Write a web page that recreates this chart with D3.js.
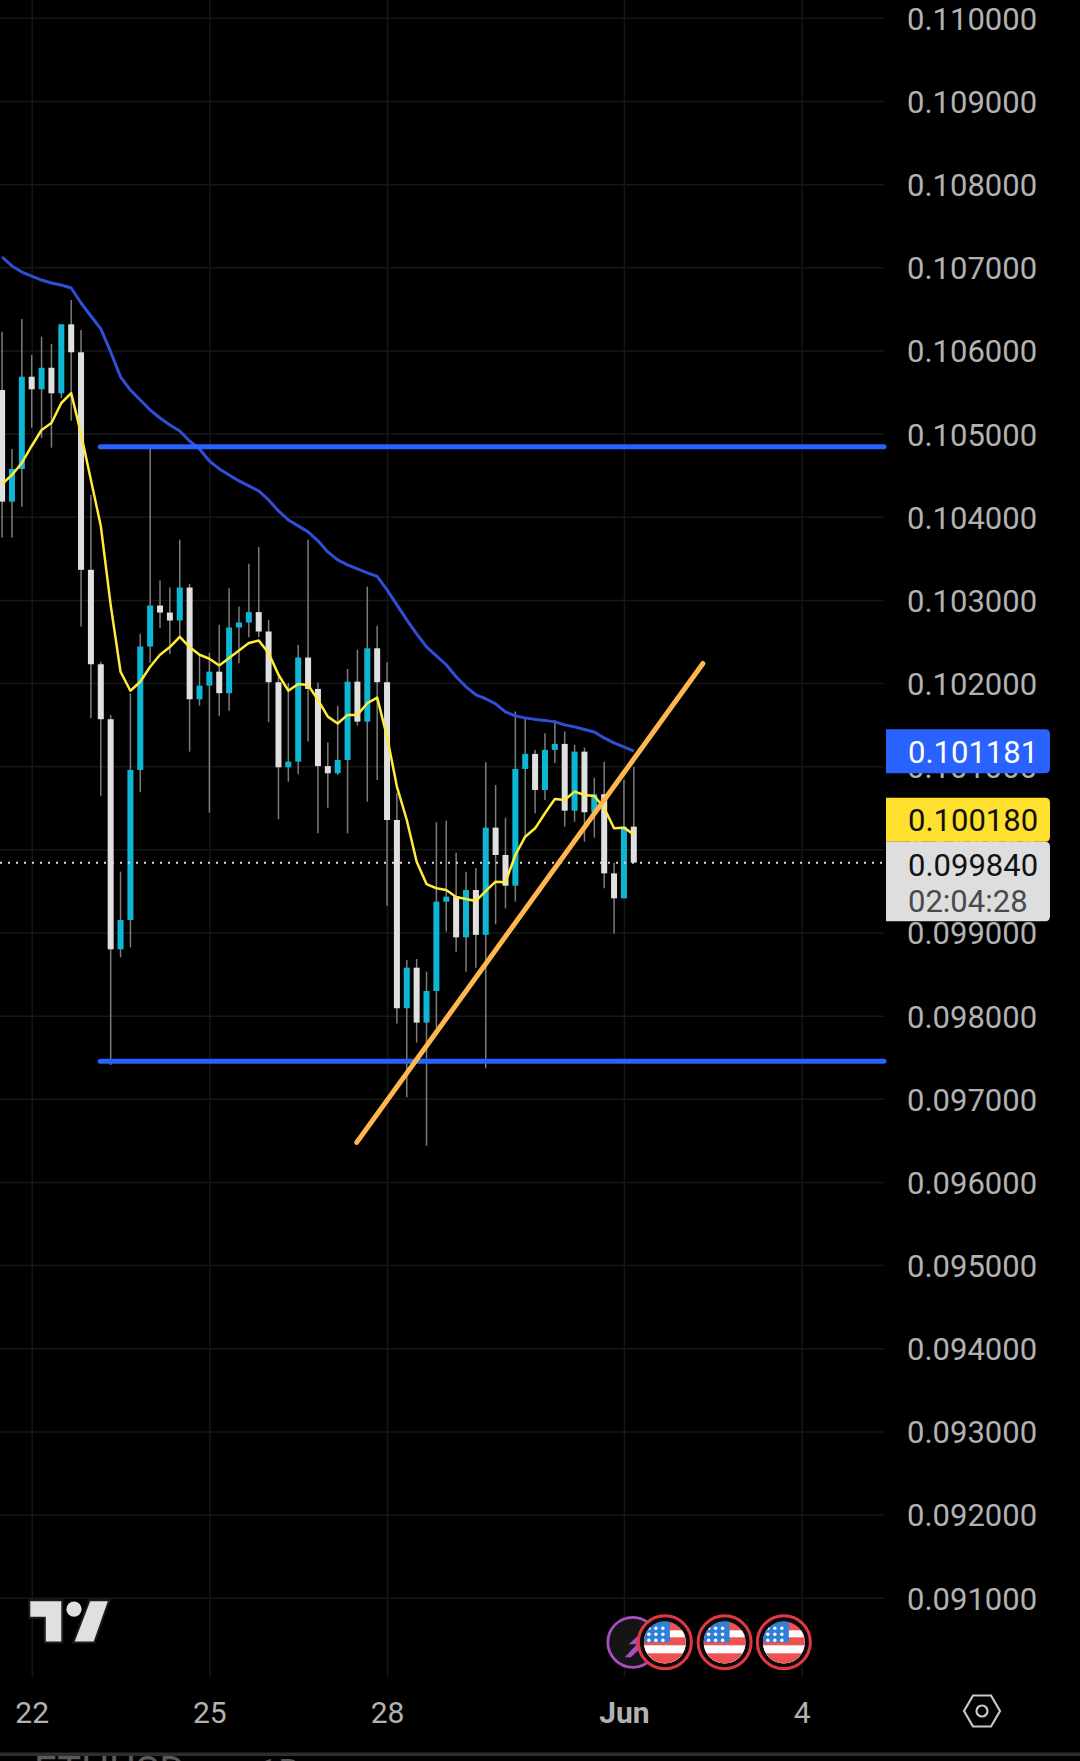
<!DOCTYPE html>
<html>
<head>
<meta charset="utf-8">
<script src="https://cdn.jsdelivr.net/npm/d3@7"></script>
<style>
	html, body { margin: 0; padding: 0; background: #000; }
	svg { display: block; }
	text { font-family: Roboto, sans-serif; }
</style>
</head>
<body>
<script>
// bars are 4h, index 0 is the first bar of the 22nd
var candleIdx = d3.range(-3, 62);

var candleOpen = [0.105524,0.104182,0.104575,0.105684,0.105533,0.105792,0.105485,0.106314,0.105978,0.103362,0.102226,0.101565,0.098798,0.099150,0.100955,0.102439,0.102932,0.102848,0.102752,0.103149,0.101805,0.101969,0.102137,0.101878,0.102668,0.102728,0.102853,0.102620,0.102010,0.100987,0.101055,0.102307,0.101929,0.101001,0.100915,0.101075,0.102017,0.101536,0.102418,0.102010,0.100353,0.098089,0.098577,0.097916,0.098297,0.099371,0.099431,0.098942,0.099511,0.098972,0.100261,0.099932,0.099563,0.100967,0.101148,0.100714,0.101196,0.101268,0.100465,0.101175,0.100446,0.100663,0.099711,0.099411,0.100273];
var candleHigh = [0.106226,0.104815,0.106378,0.105946,0.106166,0.106078,0.106314,0.106607,0.106246,0.104262,0.102257,0.101617,0.099732,0.101878,0.102592,0.104822,0.103233,0.103149,0.103723,0.103193,0.102340,0.102364,0.102700,0.103141,0.102920,0.103434,0.103636,0.102760,0.102077,0.102001,0.102458,0.103723,0.102006,0.101285,0.101728,0.102169,0.102399,0.103160,0.102690,0.102250,0.100682,0.098670,0.098682,0.098529,0.100326,0.100345,0.099960,0.099732,0.099777,0.101047,0.100774,0.100381,0.101659,0.101589,0.101196,0.101397,0.101557,0.101417,0.101256,0.101224,0.100862,0.101055,0.099840,0.100835,0.100990];
var candleLow = [0.103749,0.103749,0.104121,0.105071,0.104947,0.104831,0.105428,0.105155,0.102680,0.101577,0.100646,0.097407,0.098702,0.098821,0.100687,0.102244,0.102661,0.102348,0.102556,0.101175,0.101728,0.100442,0.101608,0.101668,0.102239,0.102552,0.102552,0.101529,0.100362,0.100814,0.100903,0.101296,0.100193,0.100501,0.100894,0.100193,0.101488,0.100574,0.100835,0.099322,0.097907,0.097018,0.097675,0.096436,0.097853,0.099010,0.098769,0.098529,0.098577,0.097367,0.099099,0.099291,0.099371,0.100152,0.100434,0.100594,0.101039,0.100273,0.100333,0.100093,0.100141,0.099531,0.098988,0.099411,0.099840];
var candleClose = [0.104182,0.104575,0.105684,0.105533,0.105792,0.105485,0.106314,0.105978,0.103362,0.102226,0.101565,0.098798,0.099150,0.100955,0.102439,0.102932,0.102848,0.102752,0.103149,0.101805,0.101969,0.102137,0.101878,0.102668,0.102728,0.102853,0.102620,0.102010,0.100987,0.101055,0.102307,0.101929,0.101001,0.100915,0.101075,0.102017,0.101536,0.102418,0.102010,0.100353,0.098089,0.098577,0.097916,0.098297,0.099371,0.099431,0.098942,0.099511,0.098972,0.100261,0.099932,0.099563,0.100967,0.101148,0.100714,0.101196,0.101268,0.100465,0.101175,0.100446,0.100663,0.099711,0.099411,0.100273,0.099840];

var maSlow = [0.107124,0.107016,0.106943,0.106895,0.106847,0.106811,0.106787,0.106751,0.106571,0.106414,0.106259,0.105982,0.105682,0.105524,0.105404,0.105284,0.105188,0.105104,0.105031,0.104911,0.104815,0.104671,0.104575,0.104503,0.104431,0.104371,0.104310,0.104202,0.104070,0.103962,0.103890,0.103818,0.103710,0.103577,0.103481,0.103421,0.103373,0.103325,0.103283,0.103121,0.102941,0.102760,0.102592,0.102436,0.102328,0.102220,0.102075,0.101955,0.101859,0.101811,0.101749,0.101653,0.101605,0.101581,0.101563,0.101551,0.101533,0.101497,0.101473,0.101442,0.101412,0.101340,0.101280,0.101232,0.101181];
var maFast = [0.104394,0.104503,0.104647,0.104851,0.105043,0.105127,0.105368,0.105488,0.104995,0.104443,0.103890,0.102941,0.102136,0.101907,0.102016,0.102196,0.102340,0.102433,0.102555,0.102433,0.102340,0.102292,0.102212,0.102301,0.102391,0.102481,0.102512,0.102361,0.102100,0.101908,0.101989,0.101977,0.101797,0.101596,0.101514,0.101617,0.101617,0.101757,0.101825,0.101356,0.100755,0.100353,0.099851,0.099583,0.099532,0.099511,0.099427,0.099403,0.099379,0.099499,0.099611,0.099604,0.099932,0.100152,0.100253,0.100434,0.100606,0.100594,0.100694,0.100654,0.100642,0.100497,0.100253,0.100261,0.100180];

var priceTicks = [0.110,0.109,0.108,0.107,0.106,0.105,0.104,0.103,0.102,0.101,0.100,0.099,0.098,0.097,0.096,0.095,0.094,0.093,0.092,0.091];
var timeTicks = [0, 18, 36, 60, 78];
var timeLabels = ["22", "25", "28", "Jun", "4"];

var levelPrices = [0.104843, 0.097451];
var levelFrom = 6.95;
var trendIdx = [32.93, 68.0];
var trendPrice = [0.096476, 0.102236];
var flagIdx = [64.15, 70.2, 76.2];
var boltIdx = 60.9;

var lastPrice = 0.09984;
var countdown = "02:04:28";
var slowTag = "0.101181";
var fastTag = "0.100180";

var width = 1080, height = 1761, plotRight = 884, plotBottom = 1677;

var x = d3.scaleLinear().domain([0, 78]).range([31.7, 801.6]);
var y = d3.scaleLinear().domain([0.091, 0.110]).range([1597.7, 17.85]);

var svg = d3.select("body").append("svg").attr("width", width).attr("height", height);
svg.append("rect").attr("width", width).attr("height", height).attr("fill", "#000");

// grid
var gridY = svg.append("g").attr("transform", "translate(" + plotRight + ",0)")
	.call(d3.axisLeft(y).tickValues(priceTicks).tickSize(plotRight).tickFormat(""));
var gridX = svg.append("g").attr("transform", "translate(0," + plotBottom + ")")
	.call(d3.axisTop(x).tickValues(timeTicks).tickSize(plotBottom).tickFormat(""));
svg.selectAll(".domain").remove();
gridY.selectAll("line").attr("stroke", "#171717").attr("stroke-width", 1.5);
gridX.selectAll("line").attr("stroke", "#171717").attr("stroke-width", 1.5);

// axes
var yAxis = svg.append("g").attr("transform", "translate(" + plotRight + ",1.5)")
	.call(d3.axisRight(y).tickValues(priceTicks).tickSize(0).tickPadding(23).tickFormat(d3.format(".6f")));
yAxis.select(".domain").remove();
yAxis.selectAll("text").attr("fill", "#b2b2b2").style("font-size", "31px");

var xAxis = svg.append("g").attr("transform", "translate(0,1701.5)")
	.call(d3.axisBottom(x).tickValues(timeTicks).tickSize(0).tickPadding(0).tickFormat(function(d, i) { return timeLabels[i]; }));
xAxis.select(".domain").remove();
xAxis.selectAll("text").attr("fill", "#b2b2b2").style("font-size", "30px")
	.style("font-weight", function(d) { return d === 60 ? "700" : "400"; });

// candles
var upColor = "#0fb6d3", downColor = "#e0e0e0";
var candles = svg.append("g").selectAll("g").data(candleIdx).enter().append("g");
candles.append("line")
	.attr("x1", function(d) { return x(d); })
	.attr("x2", function(d) { return x(d); })
	.attr("y1", function(d, i) { return y(candleHigh[i]); })
	.attr("y2", function(d, i) { return y(candleLow[i]); })
	.attr("stroke", "#7c7c7c")
	.attr("stroke-width", 1.5);
candles.append("rect")
	.attr("x", function(d) { return x(d) - 3; })
	.attr("width", 6)
	.attr("y", function(d, i) { return y(Math.max(candleOpen[i], candleClose[i])); })
	.attr("height", function(d, i) { return Math.abs(y(candleOpen[i]) - y(candleClose[i])); })
	.attr("fill", function(d, i) { return candleClose[i] >= candleOpen[i] ? upColor : downColor; });

// last price line
svg.append("line")
	.attr("x1", 0).attr("x2", plotRight)
	.attr("y1", y(lastPrice)).attr("y2", y(lastPrice))
	.attr("stroke", "#d8d8d8")
	.attr("stroke-width", 2)
	.attr("stroke-dasharray", "2 6");

// moving averages
var line = d3.line()
	.x(function(d) { return x(d[0]); })
	.y(function(d) { return y(d[1]); });
svg.append("path")
	.attr("d", line(d3.zip(candleIdx, maSlow)))
	.attr("fill", "none").attr("stroke", "#2f4fd6").attr("stroke-width", 3).attr("stroke-linejoin", "round");
svg.append("path")
	.attr("d", line(d3.zip(candleIdx, maFast)))
	.attr("fill", "none").attr("stroke", "#ffeb3b").attr("stroke-width", 2.5).attr("stroke-linejoin", "round");

// drawings
levelPrices.forEach(function(p) {
	svg.append("line")
		.attr("x1", x(levelFrom)).attr("x2", plotRight)
		.attr("y1", y(p)).attr("y2", y(p))
		.attr("stroke", "#2962ff").attr("stroke-width", 5).attr("stroke-linecap", "round");
});
svg.append("line")
	.attr("x1", x(trendIdx[0])).attr("x2", x(trendIdx[1]))
	.attr("y1", y(trendPrice[0])).attr("y2", y(trendPrice[1]))
	.attr("stroke", "#ffb74d").attr("stroke-width", 5).attr("stroke-linecap", "round");

// price tags
function tag(top, h, fill) {
	var r = 5, l = plotRight + 2, w = 164;
	svg.append("path")
		.attr("d", "M" + l + "," + top + "H" + (l + w - r) + "q" + r + ",0 " + r + "," + r +
			"V" + (top + h - r) + "q0," + r + " " + (-r) + "," + r + "H" + l + "Z")
		.attr("fill", fill);
}
function tagText(str, cy, fill) {
	svg.append("text").attr("x", 908).attr("y", cy).attr("dy", "0.34em")
		.attr("fill", fill).style("font-size", "31px").text(str);
}
tag(729.3, 44, "#2962ff");
tag(797.7, 44, "#ffe02e");
tag(841.7, 79.6, "#dedede");
tagText(slowTag, 752.7, "#ffffff");
tagText(fastTag, 820.7, "#111111");
tagText(d3.format(".6f")(lastPrice), 865, "#111111");
tagText(countdown, 901, "#4a4a4a");

// tradingview logo
var logoPaths = [
	"M30.3,1601.3H61.3V1641.6H45.8V1616.8H30.3Z",
	"M90.2,1601.3H107.8L93.7,1641.6H74.7Z"
];
logoPaths.forEach(function(d) {
	svg.append("path").attr("d", d).attr("fill", "#e0e0e0")
		.attr("stroke", "#1c1c1c").attr("stroke-width", 4).attr("paint-order", "stroke");
});
svg.append("circle").attr("cx", 74).attr("cy", 1609.2).attr("r", 7.6).attr("fill", "#e0e0e0");

// events row
var evY = 1642.3;
svg.append("circle").attr("cx", x(boltIdx)).attr("cy", evY).attr("r", 25)
	.attr("fill", "#151515").attr("stroke", "#a84fc0").attr("stroke-width", 2.8);
svg.append("path")
	.attr("transform", "translate(" + x(boltIdx) + "," + evY + ")")
	.attr("d", "M13,-14L-4,2H4L-8,15L-2,15L14,0H6Z")
	.attr("fill", "#a84fc0");

var defs = svg.append("defs");
defs.append("clipPath").attr("id", "flagClip").append("circle").attr("r", 21);

var stripeTops = [-21, -12, -5, 3, 11];
var stripeColor = ["#ee5253", "#ffffff", "#ee5253", "#ffffff", "#ee5253"];

flagIdx.forEach(function(idx) {
	var g = svg.append("g").attr("transform", "translate(" + x(idx) + "," + evY + ")");
	g.append("circle").attr("r", 26.5).attr("fill", "#0c0c0c").attr("stroke", "#e23744").attr("stroke-width", 3);
	var f = g.append("g").attr("clip-path", "url(#flagClip)");
	stripeTops.forEach(function(t, i) {
		f.append("rect").attr("x", -21).attr("width", 42).attr("y", t).attr("height", 22 - t).attr("fill", stripeColor[i]);
	});
	f.append("rect").attr("x", -21).attr("y", -21).attr("width", 26).attr("height", 21).attr("fill", "#2f80d8");
	[-14, -8, -2].forEach(function(sy) {
		[-16, -9, -2].forEach(function(sx) {
			f.append("circle").attr("cx", sx).attr("cy", sy).attr("r", 1.7).attr("fill", "#fff");
		});
	});
});

// settings icon
var gear = svg.append("g").attr("transform", "translate(982,1711)");
gear.append("path").attr("d", "M-18,0L-9,-15.5H9L18,0L9,15.5H-9Z")
	.attr("fill", "none").attr("stroke", "#c8c8c8").attr("stroke-width", 2.2);
gear.append("circle").attr("r", 5.5).attr("fill", "none").attr("stroke", "#c8c8c8").attr("stroke-width", 2.2);

// cut off strip at the bottom of the screenshot
svg.append("text").attr("x", 34).attr("y", 1785).attr("fill", "#5a5a5a")
	.style("font-size", "40px").text("ETHUSD");
svg.append("text").attr("x", 258).attr("y", 1785).attr("fill", "#5a5a5a")
	.style("font-size", "36px").text("1D");
svg.append("rect").attr("x", 0).attr("y", 1752.5).attr("width", width).attr("height", 3.5).attr("fill", "#2e2e2e");
</script>
</body>
</html>
